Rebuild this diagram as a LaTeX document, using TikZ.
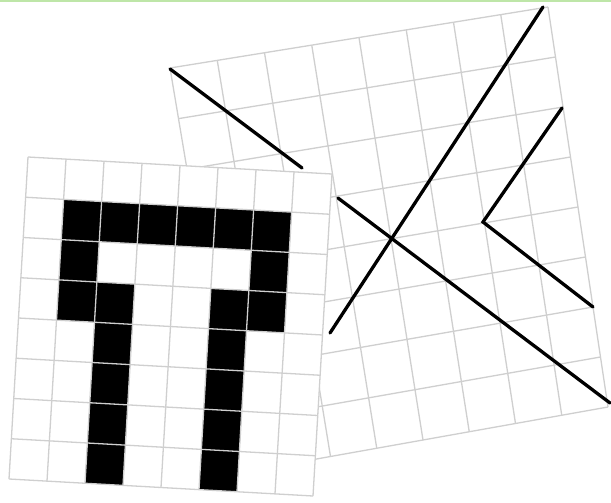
\documentclass[tikz,border=0pt]{standalone}
\usetikzlibrary{calc}
\definecolor{rulegreen}{RGB}{190,230,168}
\begin{document}
\begin{tikzpicture}[
    x=1pt, y=-1pt,
    gridline/.style={draw=black!19, line width=1.3pt},
    stroke/.style={draw=black, line width=3.3pt, line cap=round},
    cell/.style={fill=black},
    sheet/.style={fill=white}
]
\useasboundingbox (0,0) rectangle (611,503);

% top rule
\draw[rulegreen, line width=2.4pt] (0,1) -- (611,1);

% back sheet with strokes
\coordinate (rTL) at (170,68);
\coordinate (rTR) at (548,7);
\coordinate (rBR) at (608,407);
\coordinate (rBL) at (238,473);
\fill[sheet] (rTL) -- (rTR) -- (rBR) -- (rBL) -- cycle;
\foreach \i in {0,...,8} {
    \draw[gridline] ($(rTL)!\i/8!(rTR)$) -- ($(rBL)!\i/8!(rBR)$);
    \draw[gridline] ($(rTL)!\i/8!(rBL)$) -- ($(rTR)!\i/8!(rBR)$);
}
\draw[stroke] (170,69) -- (302,168);
\draw[stroke] (543,7) -- (330,333);
\draw[stroke] (338,198) -- (610,403);
\draw[stroke] (562,108) -- (483,222) -- (593,307);

% front sheet with pixels
\begin{scope}[shift={(28,157)}, x={(38pt,-2.125pt)}, y={(-2.375pt,-40.25pt)}]
    \fill[sheet] (0,0) -- (8,0) -- (8,8) -- (0,8) -- cycle;
    \foreach \c/\r in {1/1,2/1,3/1,4/1,5/1,6/1,1/2,6/2,1/3,2/3,5/3,6/3,
                       2/4,5/4,2/5,5/5,2/6,5/6,2/7,5/7}
        \fill[cell] (\c,\r) -- ++(1,0) -- ++(0,1) -- ++(-1,0) -- cycle;
    \foreach \i in {0,...,8} {
        \draw[gridline] (\i,0) -- (\i,8);
        \draw[gridline] (0,\i) -- (8,\i);
    }
\end{scope}

\end{tikzpicture}
\end{document}
